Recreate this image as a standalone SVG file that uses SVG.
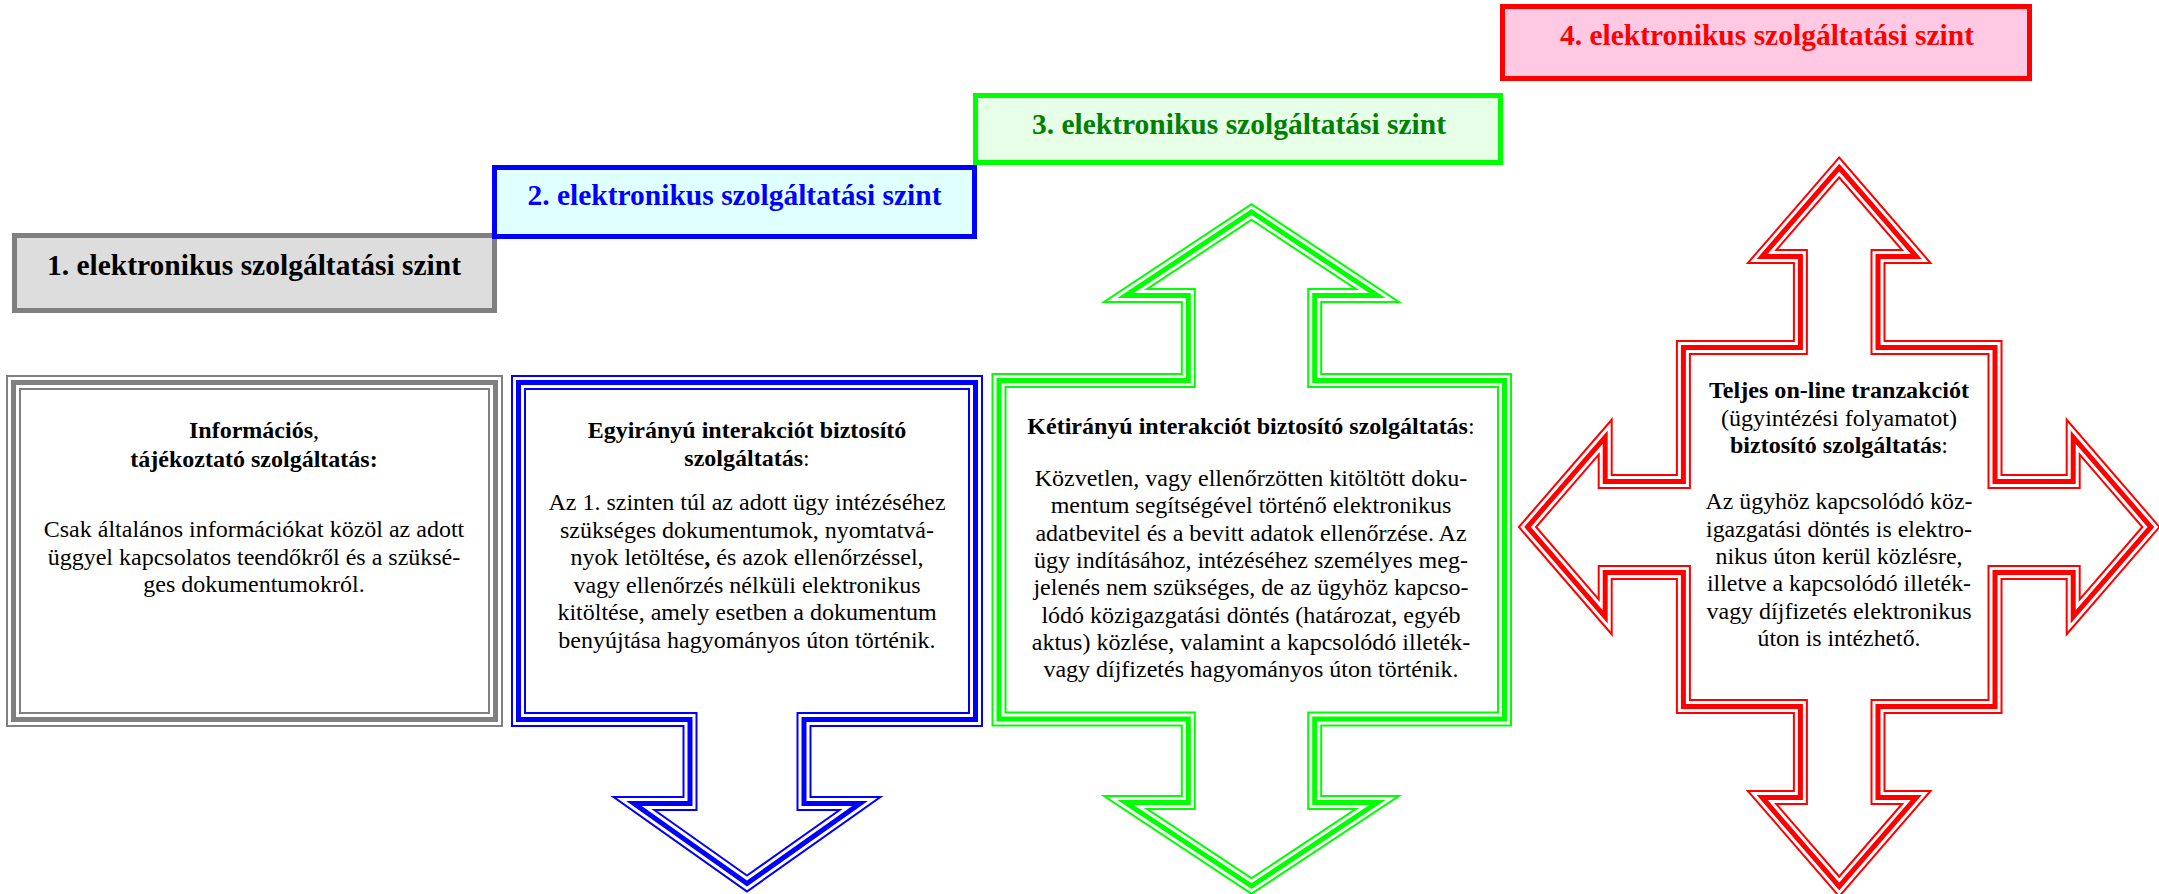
<svg xmlns="http://www.w3.org/2000/svg" xmlns:xlink="http://www.w3.org/1999/xlink" width="2159" height="894" viewBox="0 0 2159 894">
<style>
text{font-family:"Liberation Serif","Times New Roman",serif;font-size:24px;text-anchor:middle;fill:#000}
.h{font-size:29.5px;font-weight:bold}
.b{font-weight:bold}
.n{font-weight:normal}
.o{stroke-width:15;fill:#fff;stroke-linejoin:miter;stroke-miterlimit:10}
.w{stroke-width:11;stroke:#fff;fill:none;stroke-linejoin:miter;stroke-miterlimit:10}
.i{stroke-width:5;fill:none;stroke-linejoin:miter;stroke-miterlimit:10}
</style>
<defs>
<path id="p1" d="M13.5,382.5 H495.5 V719.5 H13.5 Z"/>
<path id="p2" d="M518.5,382.5 H975.5 V719.5 H804 V803.5 H860 L747,883.5 L634,803.5 H690 V719.5 H518.5 Z"/>
<path id="p3" d="M999,380.5 H1188.3 V295.5 H1125.6 L1251.5,212 L1377.4,295.5 H1314.7 V380.5 H1504.5 V719 H1314.7 V802.5 H1377.4 L1251.5,886 L1125.6,802.5 H1188.3 V719 H999 Z"/>
<path id="p4" d="M1839.2,167.5 L1916.3,256.5 H1878 V347.5 H1995 V481.5 H2073.2 V437.2 L2150.9,527 L2073.2,616.8 V572.5 H1995 V706.5 H1878 V797.5 H1916.3 L1839.2,886.5 L1762.1,797.5 H1800.4 V706.5 H1683.4 V572.5 H1605.2 V616.8 L1527.5,527 L1605.2,437.2 V481.5 H1683.4 V347.5 H1800.4 V256.5 H1762.1 Z"/>
</defs>
<rect width="2159" height="894" fill="#fff"/>

<g id="level1">
<rect x="14.5" y="235.5" width="480" height="75" fill="#dddddd" stroke="#808080" stroke-width="5"/>
<text class="h" x="254" y="275">1. elektronikus szolgáltatási szint</text>
</g>
<g id="level2">
<rect x="494.5" y="167.5" width="480" height="69" fill="#e0ffff" stroke="#0000ff" stroke-width="5"/>
<text class="h" x="734.5" y="205" style="fill:#0000ff">2. elektronikus szolgáltatási szint</text>
</g>
<g id="level3">
<rect x="975.5" y="95.5" width="525" height="67" fill="#e6ffe6" stroke="#00ff00" stroke-width="5"/>
<text class="h" x="1239" y="134" style="fill:#008000">3. elektronikus szolgáltatási szint</text>
</g>
<g id="level4">
<rect x="1502.5" y="6.5" width="527" height="72" fill="#ffc9e4" stroke="#ff0000" stroke-width="5"/>
<text class="h" x="1767" y="45" style="fill:#ff0000">4. elektronikus szolgáltatási szint</text>
</g>

<g id="service1">
<use xlink:href="#p1" class="o" stroke="#808080"/>
<use xlink:href="#p1" class="w"/>
<use xlink:href="#p1" class="i" stroke="#808080"/>
<text class="b" x="254" y="438">Információs<tspan class="n">,</tspan></text>
<text class="b" x="254" y="467">tájékoztató szolgáltatás:</text>
<text x="254" y="537">Csak általános információkat közöl az adott</text>
<text x="254" y="565">üggyel kapcsolatos teendőkről és a szüksé-</text>
<text x="254" y="592">ges dokumentumokról.</text>
</g>

<g id="service2">
<use xlink:href="#p2" class="o" stroke="#0000ff"/>
<use xlink:href="#p2" class="w"/>
<use xlink:href="#p2" class="i" stroke="#0000ff"/>
<text class="b" x="747" y="438">Egyirányú interakciót biztosító</text>
<text class="b" x="747" y="466">szolgáltatás<tspan class="n">:</tspan></text>
<text x="747" y="510">Az 1. szinten túl az adott ügy intézéséhez</text>
<text x="747" y="537.5">szükséges dokumentumok, nyomtatvá-</text>
<text x="747" y="565">nyok letöltése<tspan class="b">,</tspan> és azok ellenőrzéssel,</text>
<text x="747" y="592.5">vagy ellenőrzés nélküli elektronikus</text>
<text x="747" y="620">kitöltése, amely esetben a dokumentum</text>
<text x="747" y="647.5">benyújtása hagyományos úton történik.</text>
</g>

<g id="service3">
<use xlink:href="#p3" class="o" stroke="#00ff00"/>
<use xlink:href="#p3" class="w"/>
<use xlink:href="#p3" class="i" stroke="#00ff00"/>
<text class="b" x="1251" y="434">Kétirányú interakciót biztosító szolgáltatás<tspan class="n">:</tspan></text>
<text x="1251" y="486">Közvetlen, vagy ellenőrzötten kitöltött doku-</text>
<text x="1251" y="513.3">mentum segítségével történő elektronikus</text>
<text x="1251" y="540.7">adatbevitel és a bevitt adatok ellenőrzése. Az</text>
<text x="1251" y="568">ügy indításához, intézéséhez személyes meg-</text>
<text x="1251" y="595.3">jelenés nem szükséges, de az ügyhöz kapcso-</text>
<text x="1251" y="622.7">lódó közigazgatási döntés (határozat, egyéb</text>
<text x="1251" y="650">aktus) közlése, valamint a kapcsolódó illeték-</text>
<text x="1251" y="677.3">vagy díjfizetés hagyományos úton történik.</text>
</g>

<g id="service4">
<use xlink:href="#p4" class="o" stroke="#ff0000"/>
<use xlink:href="#p4" class="w"/>
<use xlink:href="#p4" class="i" stroke="#ff0000"/>
<text class="b" x="1839" y="398.3" textLength="260" lengthAdjust="spacingAndGlyphs">Teljes on-line tranzakciót</text>
<text x="1839" y="426" textLength="236" lengthAdjust="spacingAndGlyphs">(ügyintézési folyamatot)</text>
<text class="b" x="1839" y="453.3" textLength="218" lengthAdjust="spacingAndGlyphs">biztosító szolgáltatás<tspan class="n">:</tspan></text>
<text x="1839" y="509.3" textLength="267" lengthAdjust="spacingAndGlyphs">Az ügyhöz kapcsolódó köz-</text>
<text x="1839" y="536.7" textLength="266" lengthAdjust="spacingAndGlyphs">igazgatási döntés is elektro-</text>
<text x="1839" y="564" textLength="247" lengthAdjust="spacingAndGlyphs">nikus úton kerül közlésre,</text>
<text x="1839" y="591.3" textLength="264" lengthAdjust="spacingAndGlyphs">illetve a kapcsolódó illeték-</text>
<text x="1839" y="618.7" textLength="265" lengthAdjust="spacingAndGlyphs">vagy díjfizetés elektronikus</text>
<text x="1839" y="646" textLength="163" lengthAdjust="spacingAndGlyphs">úton is intézhető.</text>
</g>
</svg>
